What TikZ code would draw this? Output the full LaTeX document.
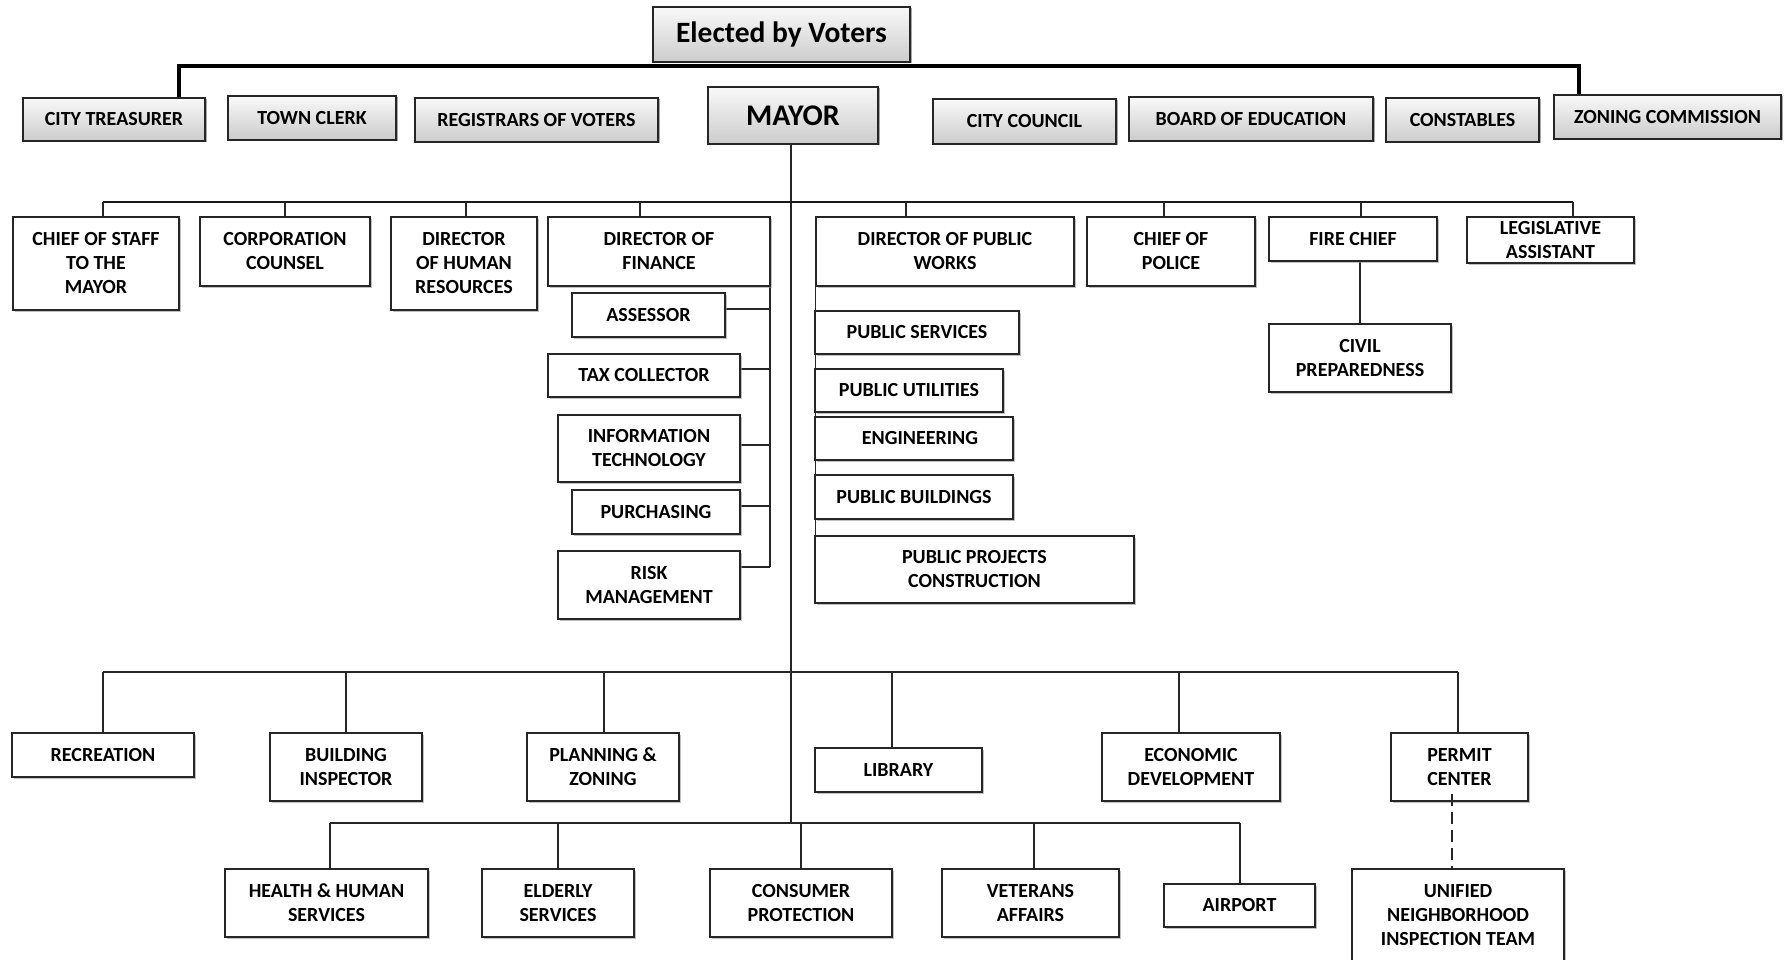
\documentclass[tikz,border=0pt]{standalone}
\usepackage{fontspec}
\setmainfont{Carlito}
\usetikzlibrary{shadows,backgrounds}
\tikzset{
  box/.style={draw=black!85, line width=1.6pt, fill=white, inner sep=0pt, align=center,
    font=\bfseries\fontsize{20}{24}\selectfont,
    drop shadow={shadow xshift=1.5pt, shadow yshift=-1.5pt, fill=black!40, opacity=0.6}},
  gbox/.style={box, top color=gray!5, bottom color=gray!40},
  ln/.style={line width=1.3pt, draw=black!85},
  topln/.style={line width=4pt, draw=black},
  midln/.style={line width=2.8pt, draw=black!90},
  dsh/.style={line width=1.3pt, draw=black!85, dash pattern=on 12pt off 6pt}
}
\newcommand\bx[7][]{\node[box,#1,minimum width={(#5-#3)*1pt},minimum height={(#6-#4)*1pt}] (#2) at ({(#3+#5)/2},{(#4+#6)/2}) {#7};}
\begin{document}
\begin{tikzpicture}[x=1pt,y=-1pt]
\useasboundingbox (0,0) rectangle (1790,960);
\begin{scope}[on background layer]
\fill[white] (0,0) rectangle (1790,960);
\end{scope}
\clip (0,0) rectangle (1790,960);
% top row
\bx[gbox,font=\bfseries\fontsize{29.5}{36}\selectfont]{el}{653}{7}{910}{62}{Elected by Voters}
\bx[gbox]{ct}{23}{98}{205}{141}{CITY TREASURER}
\bx[gbox]{tc}{228}{96}{396}{140}{TOWN CLERK}
\bx[gbox]{rv}{415}{98}{658}{142}{REGISTRARS OF VOTERS}
\bx[gbox,font=\bfseries\fontsize{30}{36}\selectfont]{my}{708}{87}{878}{144}{MAYOR}
\bx[gbox]{cc}{933}{99}{1116}{144}{CITY COUNCIL}
\bx[gbox]{be}{1129}{97}{1373}{141}{BOARD OF EDUCATION}
\bx[gbox]{cn}{1386}{98}{1539}{142}{CONSTABLES}
\bx[gbox]{zc}{1554}{95}{1781}{139}{ZONING COMMISSION}
% second row
\bx{cos}{13}{217}{179}{310}{CHIEF OF STAFF\\TO THE\\MAYOR}
\bx{cor}{200}{217}{370}{286}{CORPORATION\\COUNSEL}
\bx{hr}{391}{217}{537}{310}{DIRECTOR\\OF HUMAN\\RESOURCES}
\bx{fin}{548}{217}{770}{286}{DIRECTOR OF\\FINANCE}
\bx{pw}{816}{217}{1074}{286}{DIRECTOR OF PUBLIC\\WORKS}
\bx{pol}{1087}{217}{1255}{286}{CHIEF OF\\POLICE}
\bx{fire}{1269}{217}{1437}{261}{FIRE CHIEF}
\bx{leg}{1467}{217}{1634}{263}{LEGISLATIVE\\ASSISTANT}
\bx{civ}{1269}{324}{1451}{392}{CIVIL\\PREPAREDNESS}
% finance
\bx{ass}{572}{293}{725}{337}{ASSESSOR}
\bx{tax}{548}{354}{740}{397}{TAX COLLECTOR}
\bx{it}{558}{415}{740}{482}{INFORMATION\\TECHNOLOGY}
\bx{pur}{572}{490}{740}{534}{PURCHASING}
\bx{risk}{558}{551}{740}{619}{RISK\\MANAGEMENT}
% public works
\bx{ps}{815}{311}{1019}{354}{PUBLIC SERVICES}
\bx{pu}{815}{369}{1003}{412}{PUBLIC UTILITIES}
\bx{eng}{815}{417}{1013}{460}{\hspace*{12pt}ENGINEERING}
\bx{pb}{815}{475}{1013}{519}{PUBLIC BUILDINGS}
\bx{ppc}{815}{536}{1134}{603}{PUBLIC PROJECTS\\CONSTRUCTION}
% bottom
\bx{rec}{12}{733}{194}{777}{RECREATION}
\bx{bi}{270}{733}{422}{801}{BUILDING\\INSPECTOR}
\bx{pz}{527}{733}{679}{801}{PLANNING \&\\ZONING}
\bx{lib}{815}{748}{982}{792}{LIBRARY}
\bx{ed}{1102}{733}{1280}{801}{ECONOMIC\\DEVELOPMENT}
\bx{pc}{1391}{733}{1528}{801}{PERMIT\\CENTER}
\bx{hhs}{225}{869}{428}{937}{HEALTH \& HUMAN\\SERVICES}
\bx{es}{482}{869}{634}{937}{ELDERLY\\SERVICES}
\bx{cp}{710}{869}{892}{937}{CONSUMER\\PROTECTION}
\bx{va}{942}{869}{1119}{937}{VETERANS\\AFFAIRS}
\bx{ap}{1164}{884}{1315}{927}{AIRPORT}
\bx{un}{1352}{869}{1564}{961}{UNIFIED\\NEIGHBORHOOD\\INSPECTION TEAM}
% connectors
\begin{scope}[on background layer]
\coordinate (tl) at (179,66);
\coordinate (tr) at (1579,66);
\draw[topln] (tl |- ct.north) -- (tl) -- (tr) -- (tr |- zc.north);
\coordinate (mb) at (791,823);
\draw[ln] (mb |- my.south) -- (mb);
% row 2 bus
\coordinate (ra) at (103,202);
\coordinate (rb) at (1573,202);
\draw[midln] (ra) -- (rb);
\foreach \n/\x in {cos/103,cor/285,hr/466,fin/640,pw/906,pol/1164,fire/1361,leg/1573}
  \draw[ln] (\x,202) -- (\n.north -| \x,0);
\draw[ln] (civ.north |- fire.south) -- (civ.north);
% finance ladder
\coordinate (fv) at (770,286);
\draw[ln] (fv) -- (fv |- 0,567);
\foreach \n/\y in {ass/309,tax/369,it/445,pur/506,risk/567}
  \draw[ln] (\n.east |- 0,\y) -- (fv |- 0,\y);
% public works ladder
\draw[ln] (pw.south west) -- (pw.south west |- ppc.north);
% bottom bus
\coordinate (ba) at (103,672);
\coordinate (bb) at (1458,672);
\draw[ln] (ba) -- (bb);
\foreach \n/\x in {rec/103,bi/346,pz/604,lib/892,ed/1179,pc/1458}
  \draw[ln] (\x,672) -- (\n.north -| \x,0);
% lower bus
\coordinate (la) at (330,823);
\coordinate (lb) at (1240,823);
\draw[ln] (la) -- (lb);
\foreach \n/\x in {hhs/330,es/558,cp/801,va/1034,ap/1240}
  \draw[ln] (\x,823) -- (\n.north -| \x,0);
\end{scope}
\draw[dsh] (1452,794) -- (un.north -| 1452,0);
\end{tikzpicture}
\end{document}
